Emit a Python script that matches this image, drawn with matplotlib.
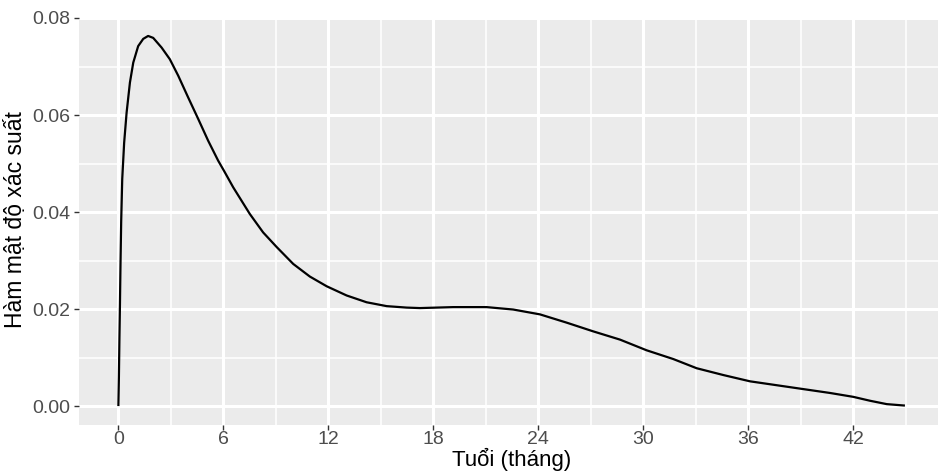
import matplotlib
matplotlib.use("Agg")
import matplotlib.pyplot as plt
from matplotlib.ticker import MultipleLocator

# Estimated density of age (months)
age_months = [0.0, 0.03, 0.06, 0.09, 0.12, 0.16, 0.22, 0.33, 0.47, 0.66,
              0.85, 1.13, 1.42, 1.70, 1.99, 2.47, 2.94, 3.42, 3.99, 4.56,
              5.13, 5.70, 6.05, 6.56, 7.51, 8.27, 9.04, 9.99, 10.94, 11.9,
              13.04, 14.18, 15.33, 16.47, 17.23, 19.13, 21.04, 22.56, 24.09,
              25.61, 27.13, 28.66, 30.18, 31.70, 33.04, 34.56, 36.09, 37.61,
              38.94, 40.66, 41.99, 42.94, 43.9, 44.94]
density = [0.0, 0.006, 0.014, 0.021, 0.029, 0.038, 0.0468, 0.0543, 0.0605,
           0.0667, 0.0708, 0.0742, 0.0757, 0.0763, 0.0759, 0.0739, 0.0715,
           0.0681, 0.0636, 0.0592, 0.0547, 0.0506, 0.0484, 0.0451, 0.0396,
           0.0358, 0.0328, 0.0293, 0.0267, 0.0247, 0.0228, 0.0214, 0.0206,
           0.0203, 0.0202, 0.0204, 0.0204, 0.0199, 0.0189, 0.0172, 0.0154,
           0.0137, 0.0115, 0.0097, 0.0078, 0.0064, 0.0051, 0.0043, 0.0036,
           0.0027, 0.0019, 0.0011, 0.0004, 0.0001]

x_ticks = [0, 6, 12, 18, 24, 30, 36, 42]
y_ticks = [0.00, 0.02, 0.04, 0.06, 0.08]
x_label = "Tuổi (tháng)"
y_label = "Hàm mật độ xác suất"

plt.rcParams["font.family"] = ["Liberation Sans", "DejaVu Sans"]

W, H = 939, 474
fig = plt.figure(figsize=(W / 100, H / 100), dpi=100)
left, right, top, bottom = 79, 938, 18, 424.5
ax = fig.add_axes([left / W, 1 - bottom / H, (right - left) / W, (bottom - top) / H])

ax.set_facecolor("#EBEBEB")
for s in ax.spines.values():
    s.set_visible(False)

ax.set_xlim(-2.25, 46.83)
ax.set_ylim(-0.0038, 0.0798)
ax.set_xticks(x_ticks)
ax.set_yticks(y_ticks)
ax.set_yticklabels([f"{v:.2f}" for v in y_ticks])
ax.xaxis.set_minor_locator(MultipleLocator(3))
ax.yaxis.set_minor_locator(MultipleLocator(0.01))

ax.grid(which="major", color="white", linewidth=2.2)
ax.grid(which="minor", color="white", linewidth=1.1)
ax.set_axisbelow(True)

ax.tick_params(which="major", length=3.5, width=1.0, color="#333333",
               labelsize=14, labelcolor="#4D4D4D", pad=2.5)
ax.tick_params(axis="x", which="major", pad=1.5)
ax.tick_params(which="minor", length=0)

ax.plot(age_months, density, color="black", linewidth=1.6,
        solid_joinstyle="round", solid_capstyle="butt")

ax.set_xlabel(x_label, fontsize=16, color="black")
ax.set_ylabel(y_label, fontsize=16.5, color="black")
ax.xaxis.set_label_coords(0.504, -0.058)
ax.yaxis.set_label_coords(-0.061, 0.503)

fig.savefig("out.png", dpi=100)
